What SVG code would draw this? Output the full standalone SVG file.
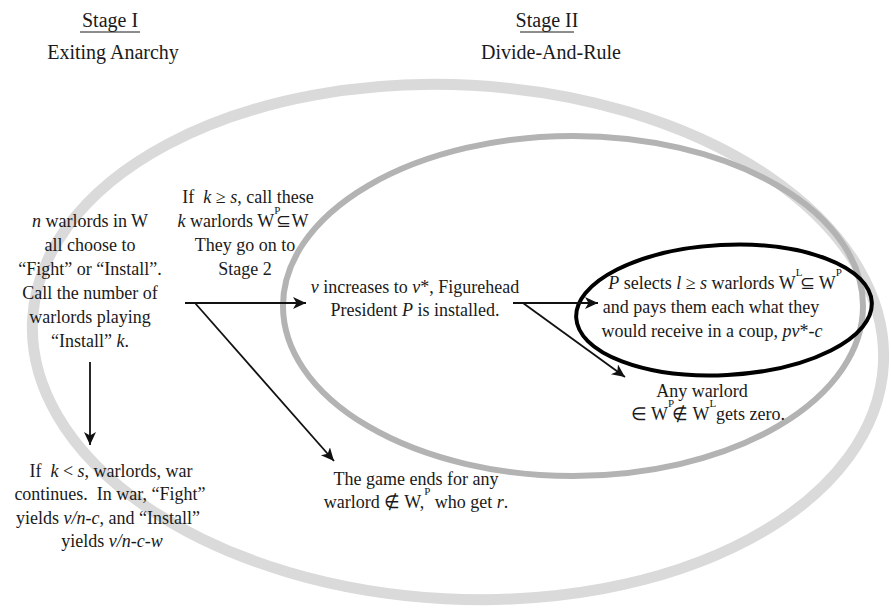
<svg xmlns="http://www.w3.org/2000/svg" width="891" height="608" viewBox="0 0 891 608" font-family="'Liberation Serif', 'Times New Roman', Times, serif">
<defs>
<style>
text{fill:#1a1a1a;text-anchor:middle}
.t{font-size:18px}
.h{font-size:20px}
.i{font-style:italic}
.s{font-size:11px}
.c{stroke:#111;stroke-width:1.8;fill:none;marker-end:url(#ah)}
</style>
<marker id="ah" markerUnits="userSpaceOnUse" markerWidth="16" markerHeight="14" refX="13" refY="6" orient="auto">
<path d="M0,0 L13,6 L0,12 L3.5,6 Z" fill="#111"/>
</marker>
</defs>
<rect width="891" height="608" fill="#fff"/>
<g id="stage-outer">
<ellipse cx="458" cy="342" rx="426" ry="257" transform="rotate(3 458 342)" fill="none" stroke="#dadada" stroke-width="11"/>
</g>
<g id="stage-middle">
<ellipse cx="573" cy="306" rx="290" ry="170" fill="none" stroke="#b3b3b3" stroke-width="6"/>
</g>
<g id="stage-inner">
<ellipse cx="724" cy="310" rx="148" ry="65" transform="rotate(-3 724 310)" fill="none" stroke="#000" stroke-width="4"/>
</g>
<g id="titles" font-family="'Liberation Serif', serif">
<text class="h" x="110" y="27">Stage I</text>
<line x1="80" y1="32" x2="140" y2="32" stroke="#1a1a1a" stroke-width="1"/>
<text class="h" x="113" y="59">Exiting Anarchy</text>
<text class="h" x="547" y="27">Stage II</text>
<line x1="520" y1="32" x2="574" y2="32" stroke="#1a1a1a" stroke-width="1"/>
<text class="h" x="551" y="59">Divide-And-Rule</text>
</g>
<g id="node-choose" font-family="'Liberation Serif', serif">
<text class="t" x="90" y="227"><tspan class="i">n</tspan> warlords in W</text>
<text class="t" x="90" y="251">all choose to</text>
<text class="t" x="90" y="275">“Fight” or “Install”.</text>
<text class="t" x="90" y="299">Call the number of</text>
<text class="t" x="90" y="323">warlords playing</text>
<text class="t" x="90" y="347">“Install” <tspan class="i">k</tspan>.</text>
</g>
<g id="node-install" font-family="'Liberation Serif', serif">
<text class="t" x="248" y="203">If&#160; <tspan class="i">k</tspan> ≥ <tspan class="i">s</tspan>, call these</text>
<text class="t" x="243" y="227"><tspan class="i">k</tspan> warlords W<tspan class="s" dy="-13">P</tspan><tspan dx="-4" dy="13">⊆</tspan>W</text>
<text class="t" x="245" y="251">They go on to</text>
<text class="t" x="245" y="275">Stage 2</text>
</g>
<g id="node-war" font-family="'Liberation Serif', serif">
<text class="t" x="111" y="477">If&#160; <tspan class="i">k</tspan> &lt; <tspan class="i">s</tspan>, warlords, war</text>
<text class="t" x="110" y="500">continues.&#160; In war, “Fight”</text>
<text class="t" x="108" y="524">yields <tspan class="i">v/n-c</tspan>, and “Install”</text>
<text class="t" x="112" y="547">yields <tspan class="i">v/n-c-w</tspan></text>
</g>
<g id="node-president" font-family="'Liberation Serif', serif">
<text class="t" x="415" y="293"><tspan class="i">v</tspan> increases to <tspan class="i">v</tspan>*, Figurehead</text>
<text class="t" x="415" y="316">President <tspan class="i">P</tspan> is installed.</text>
</g>
<g id="node-select" font-family="'Liberation Serif', serif">
<text class="t" x="725" y="289"><tspan class="i">P</tspan> selects <tspan class="i">l</tspan> ≥ <tspan class="i">s</tspan> warlords W<tspan class="s" dy="-13">L</tspan><tspan dx="-3" dy="13">⊆</tspan> W<tspan class="s" dy="-13">P</tspan></text>
<text class="t" x="711" y="313">and pays them each what they</text>
<text class="t" x="712" y="337">would receive in a coup, <tspan class="i">pv</tspan>*-<tspan class="i">c</tspan></text>
</g>
<g id="node-zero" font-family="'Liberation Serif', serif">
<text class="t" x="702" y="397">Any warlord</text>
<text class="t" x="708" y="420">∈ W<tspan class="s" dy="-13">P</tspan><tspan dx="-2" dy="13">∉</tspan> W<tspan class="s" dy="-13">L</tspan><tspan dy="13">gets zero.</tspan></text>
</g>
<g id="node-ends" font-family="'Liberation Serif', serif">
<text class="t" x="416" y="485">The game ends for any</text>
<text class="t" x="416" y="508">warlord ∉ W,<tspan class="s" dy="-13">P</tspan><tspan dy="13"> who get </tspan><tspan class="i">r</tspan>.</text>
</g>
<g id="connectors">
<line class="c" x1="90" y1="362" x2="90" y2="445"/>
<line class="c" x1="185" y1="303" x2="306" y2="303"/>
<line class="c" x1="195" y1="303" x2="334" y2="461"/>
<line class="c" x1="513" y1="303" x2="598" y2="303"/>
<line class="c" x1="523" y1="303" x2="625" y2="377"/>
</g>
</svg>
